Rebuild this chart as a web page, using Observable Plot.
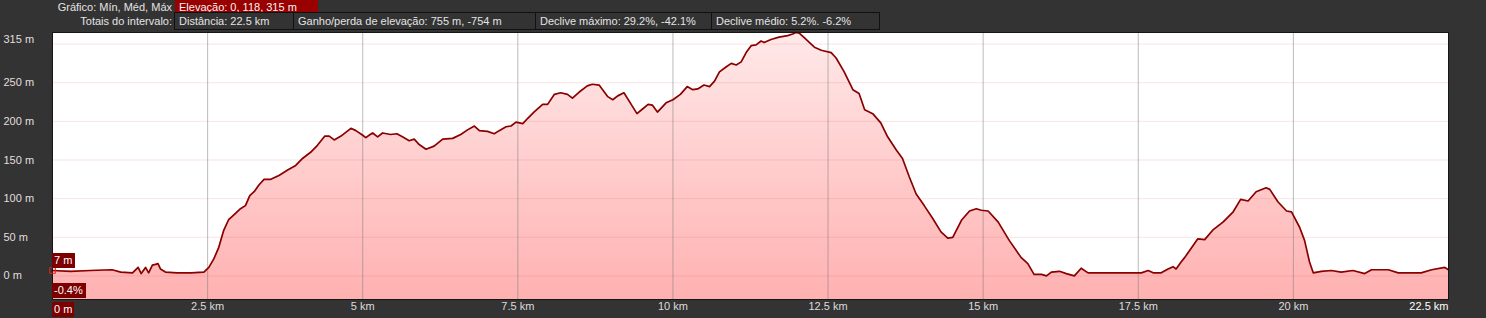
<!DOCTYPE html>
<html>
<head>
<meta charset="utf-8">
<script src="https://cdn.jsdelivr.net/npm/d3@7"></script>
<script src="https://cdn.jsdelivr.net/npm/@observablehq/plot@0.6"></script>
<style>
  html, body { margin: 0; padding: 0; background: #333333; }
  #wrap { position: relative; width: 1486px; height: 318px; overflow: hidden; font-family: "Liberation Sans", Arial, sans-serif; font-size: 11px; color: #e4e4e4; }
  .hl { position: absolute; white-space: nowrap; text-align: right; }
  .box { position: absolute; white-space: nowrap; box-sizing: border-box; padding-left: 4px; }
  .mk { position: absolute; white-space: nowrap; box-sizing: border-box; background: #7d0000; color: #fff; padding-left: 2px; font-size: 11px; }
</style>
</head>
<body>
<div id="wrap"><div id="chart"></div></div>
<script>
// ---- data ----
const distanceKm = [0,0.29,0.61,0.96,1.10,1.29,1.38,1.43,1.50,1.55,1.61,1.66,1.70,1.74,1.82,2.01,2.23,2.44,2.52,2.60,2.68,2.76,2.84,2.95,3.03,3.11,3.18,3.25,3.33,3.41,3.52,3.65,3.79,3.92,4.03,4.16,4.27,4.39,4.46,4.54,4.65,4.81,4.89,5.00,5.05,5.12,5.16,5.24,5.32,5.45,5.55,5.64,5.75,5.83,5.91,6.02,6.15,6.29,6.45,6.58,6.69,6.80,6.88,7.01,7.12,7.20,7.31,7.39,7.47,7.58,7.66,7.76,7.90,7.98,8.09,8.19,8.30,8.38,8.49,8.62,8.70,8.81,8.95,9.03,9.11,9.21,9.32,9.42,9.51,9.60,9.67,9.75,9.89,10.00,10.12,10.23,10.32,10.40,10.50,10.59,10.67,10.75,10.85,10.94,11.02,11.10,11.18,11.26,11.34,11.42,11.47,11.58,11.71,11.85,11.93,11.98,12.04,12.12,12.28,12.39,12.55,12.63,12.76,12.90,13.00,13.09,13.22,13.35,13.46,13.60,13.70,13.81,13.92,14.05,14.19,14.32,14.43,14.51,14.65,14.78,14.89,14.97,15.08,15.24,15.42,15.61,15.72,15.82,15.94,16.02,16.10,16.23,16.34,16.47,16.58,16.69,17.12,17.55,17.66,17.74,17.87,17.98,18.06,18.11,18.19,18.25,18.46,18.57,18.71,18.87,19.03,19.15,19.27,19.40,19.56,19.62,19.75,19.89,19.97,20.10,20.18,20.26,20.32,20.45,20.61,20.77,20.96,21.15,21.26,21.53,21.69,22.06,22.23,22.44,22.50];
const elevationM = [7,6,7,8,5,4,11,3,11,4,14,15,16,9,5,4,4,5,11,22,37,59,73,81,87,91,104,109,118,125,125,130,137,143,152,160,169,181,181,176,181,191,188,182,179,183,185,180,185,183,184,180,175,177,170,164,168,177,178,183,189,194,188,187,184,188,193,194,199,197,204,212,222,222,235,237,235,230,238,246,248,247,232,228,233,237,223,210,216,222,221,212,224,228,235,245,241,242,247,245,252,264,270,275,273,277,289,298,299,304,302,306,309,311,313,315,314,308,296,292,289,282,264,241,236,215,210,198,180,163,152,128,106,91,74,57,49,50,72,84,87,85,84,70,46,24,16,2,2,0,5,6,3,0,10,4,4,4,7,4,4,9,12,9,18,24,48,47,60,70,83,99,97,109,114,112,96,84,83,63,46,18,4,6,7,5,7,3,8,8,4,4,8,11,8];

const xTickValues = [2.5, 5, 7.5, 10, 12.5, 15, 17.5, 20];
const xTickLabels = ["2.5 km", "5 km", "7.5 km", "10 km", "12.5 km", "15 km", "17.5 km", "20 km"];
const xEndValue = 22.5;
const xEndLabel = "22.5 km";
const yTickValues = [0, 50, 100, 150, 200, 250];
const yGridValues = [0, 50, 100, 150, 200, 250, 300];
const yMaxValue = 315;

const headerRow1Label = "Gráfico: Mín, Méd, Máx";
const headerRow1Box = "Elevação: 0, 118, 315 m";
const headerRow2Label = "Totais do intervalo:";
const headerRow2Boxes = ["Distância: 22.5 km", "Ganho/perda de elevação: 755 m, -754 m", "Declive máximo: 29.2%, -42.1%", "Declive médio: 5.2%. -6.2%"];
const cursorKm = 0;
const cursorElev = 7;
const cursorLabels = ["7 m", "-0.4%", "0 m"];

// ---- chart ----
const data = distanceKm.map((k, i) => ({km: k, elev: elevationM[i]}));
const yDomain = [-30.5, 315];

const chart = Plot.plot({
  width: 1486,
  height: 318,
  marginLeft: 52,
  marginRight: 38,
  marginTop: 32,
  marginBottom: 19,
  style: {background: "transparent", fontFamily: "'Liberation Sans', Arial, sans-serif", fontSize: "11px", color: "#e0e0e0"},
  x: {domain: [0, 22.5], axis: null},
  y: {domain: yDomain, axis: null},
  marks: [
    Plot.frame({fill: "white", stroke: "none"}),
    Plot.areaY(data, {x: "km", y1: () => yDomain[0], y2: "elev", fill: "url(#elevGrad)", curve: "linear"}),
    Plot.ruleY(yGridValues, {stroke: "#d04050", strokeOpacity: 0.15}),
    Plot.ruleX(xTickValues, {stroke: "#7a7a7a", strokeOpacity: 0.5}),
    Plot.line(data, {x: "km", y: "elev", stroke: "#8a0000", strokeWidth: 1.7}),
    Plot.frame({stroke: "#151515"}),
    Plot.text(yTickValues, {y: d => d, text: d => `${d} m`, frameAnchor: "left", textAnchor: "start", dx: -49, fill: "#e2dede"}),
    Plot.text([yMaxValue], {y: d => d, text: d => `${d} m`, frameAnchor: "left", textAnchor: "start", dx: -49, dy: 7, fill: "#e2dede"}),
    Plot.text(xTickValues, {x: d => d, text: (d, i) => xTickLabels[i], frameAnchor: "bottom", dy: 10, fill: "#dcdcdc"}),
    Plot.text([xEndValue], {x: d => d, text: () => xEndLabel, frameAnchor: "bottom", textAnchor: "end", dy: 10, fill: "#ffffff"}),
    Plot.dot([{km: cursorKm, elev: cursorElev}], {x: "km", y: "elev", symbol: "square", r: 3.2, stroke: "#e02020", fill: "none", strokeWidth: 1})
  ]
});

// gradient definition
const ns = "http://www.w3.org/2000/svg";
const defs = document.createElementNS(ns, "defs");
const grad = document.createElementNS(ns, "linearGradient");
grad.setAttribute("id", "elevGrad");
grad.setAttribute("gradientUnits", "userSpaceOnUse");
grad.setAttribute("x1", "0"); grad.setAttribute("x2", "0");
grad.setAttribute("y1", "32"); grad.setAttribute("y2", "299");
[["0%", "#ffe9e9"], ["100%", "#ffb1b1"]].forEach(([o, c]) => {
  const s = document.createElementNS(ns, "stop");
  s.setAttribute("offset", o); s.setAttribute("stop-color", c);
  grad.appendChild(s);
});
defs.appendChild(grad);
chart.insertBefore(defs, chart.firstChild);
document.getElementById("chart").appendChild(chart);

// ---- header overlay ----
const wrap = document.getElementById("wrap");
function add(cls, text, css) {
  const d = document.createElement("div");
  d.className = cls;
  d.textContent = text;
  Object.assign(d.style, css);
  wrap.appendChild(d);
  return d;
}
add("hl", headerRow1Label, {right: (1486 - 172) + "px", top: "0px", lineHeight: "15px"});
add("box", headerRow1Box, {left: "175px", top: "0px", width: "143px", height: "15px", lineHeight: "15px", background: "#990000", color: "#f4f4f4"});
add("hl", headerRow2Label, {right: (1486 - 172) + "px", top: "13px", lineHeight: "16px"});
const row2Left = [174, 293, 535, 711];
const row2Width = [120, 243, 177, 169];
headerRow2Boxes.forEach((t, i) => {
  add("box", t, {left: row2Left[i] + "px", top: "12px", width: row2Width[i] + "px", height: "18px", lineHeight: "16px", border: "1px solid #111", background: "#333"});
});
// cursor labels
add("mk", cursorLabels[0], {left: "52px", top: "253px", width: "23px", height: "15px", lineHeight: "15px"});
add("mk", cursorLabels[1], {left: "52px", top: "283px", width: "34px", height: "15px", lineHeight: "15px"});
add("mk", cursorLabels[2], {left: "52px", top: "302px", width: "22px", height: "15px", lineHeight: "15px"});
</script>
</body>
</html>
